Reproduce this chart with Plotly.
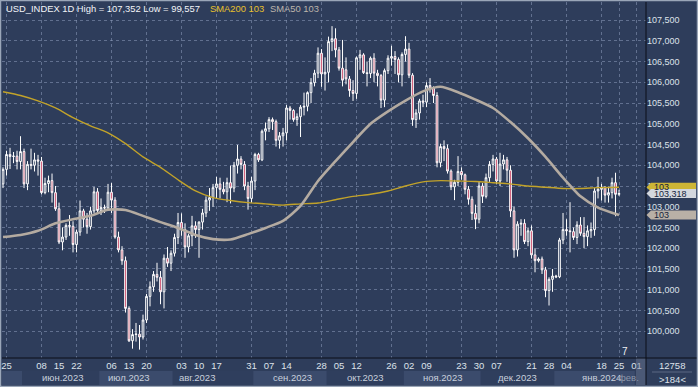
import plotly.graph_objects as go
import pandas as pd

# ---------------- data ----------------
dates = pd.bdate_range("2023-05-24", "2024-01-25")

open_ = [103.55, 103.90, 104.26,
         104.21, 104.22, 104.09, 104.33, 103.55,
         104.02, 104.00, 104.13, 104.10, 103.34,
         103.56, 103.63, 103.34, 102.95, 102.15,
         102.27, 102.55, 102.53, 102.09, 102.39,
         102.90, 102.70, 102.52, 102.90, 103.36,
         102.91, 102.98, 102.97, 103.35, 103.16,
         102.27, 101.96, 101.70, 100.55, 99.77,
         99.92, 99.93, 99.86, 100.27, 100.84,
         101.07, 101.37, 101.30, 100.95, 101.76,
         101.64, 101.88, 102.26, 102.62, 102.45,
         102.03, 102.30, 102.54, 102.45, 102.63,
         102.85, 103.16, 103.22, 103.46, 103.55,
         103.42, 103.36, 103.58, 103.45, 104.00,
         104.15, 104.02, 103.50, 103.20, 103.62,
         104.26, 104.13, 104.82, 104.88, 105.10,
         105.05, 104.60, 104.71, 104.78, 105.38,
         105.32, 105.10, 105.17, 105.40, 105.42,
         105.75, 105.99, 106.22, 106.70, 106.20,
         106.24, 106.98, 107.05, 106.78, 106.34,
         106.30, 106.08, 105.80, 105.73, 106.59,
         106.66, 106.23, 106.21, 106.58, 106.22,
         106.16, 105.57, 106.28, 106.58, 106.62,
         106.55, 106.18, 106.67, 106.80, 106.17,
         105.10, 105.26, 105.55, 105.52, 105.92,
         105.86, 105.68, 104.06, 104.45, 104.40,
         103.86, 103.48, 103.59, 103.85, 103.77,
         103.42, 103.18, 102.84, 102.70, 103.50,
         103.25, 103.70, 104.02, 104.15, 103.62,
         104.03, 104.13, 103.88, 102.90, 101.96,
         102.58, 102.60, 102.16, 102.42, 101.84,
         101.70, 101.74, 101.48, 100.98, 101.25,
         101.33, 101.31, 102.20, 102.45, 102.42,
         102.40, 102.26, 102.56, 102.36, 102.28,
         102.42, 102.45, 103.38, 103.42, 103.46,
         103.28, 103.34, 103.58, 103.30]

high = [103.95, 104.35, 104.42,
        104.32, 104.35, 104.70, 104.40, 104.10,
        104.40, 104.30, 104.25, 104.20, 103.70,
        103.75, 103.80, 103.50, 103.10, 102.50,
        102.60, 102.80, 102.65, 102.45, 103.15,
        102.95, 102.85, 103.00, 103.48, 103.45,
        103.20, 103.05, 103.55, 103.57, 103.23,
        102.40, 102.05, 101.80, 100.60, 100.05,
        100.20, 100.15, 100.40, 100.90, 101.20,
        101.45, 101.65, 101.45, 101.85, 102.03,
        101.95, 102.35, 102.85, 102.84, 102.60,
        102.35, 102.78, 102.65, 102.65, 102.95,
        103.25, 103.45, 103.55, 103.72, 103.70,
        103.60, 103.70, 103.99, 104.08, 104.49,
        104.22, 104.10, 103.60, 103.72, 104.30,
        104.30, 104.86, 105.03, 105.16, 105.15,
        105.10, 104.80, 104.90, 105.45, 105.43,
        105.35, 105.25, 105.45, 105.75, 105.78,
        106.10, 106.30, 106.84, 106.80, 106.60,
        107.10, 107.352, 107.30, 106.85, 107.02,
        106.60, 106.15, 106.05, 106.62, 106.78,
        106.70, 106.50, 106.62, 106.70, 106.30,
        106.20, 106.33, 106.65, 106.88, 106.75,
        106.60, 106.72, 107.11, 106.95, 106.22,
        105.35, 105.60, 105.70, 106.00, 106.10,
        105.90, 105.76, 104.52, 104.60, 104.50,
        103.90, 103.65, 104.22, 103.95, 103.80,
        103.50, 103.25, 103.05, 103.60, 103.57,
        103.80, 104.10, 104.25, 104.20, 104.30,
        104.25, 104.20, 104.00, 103.00, 102.65,
        102.70, 102.70, 102.50, 102.55, 102.00,
        101.78, 101.80, 101.55, 101.30, 101.50,
        101.36, 102.25, 102.85, 102.70, 103.11,
        102.50, 102.65, 102.75, 102.75, 102.55,
        102.62, 103.45, 103.72, 103.55, 103.50,
        103.48, 103.70, 103.82, 103.41]

low = [103.45, 103.75, 103.91,
       104.05, 103.90, 103.90, 103.45, 103.40,
       103.90, 103.85, 103.75, 103.30, 103.30,
       103.35, 103.10, 102.90, 102.10, 101.95,
       102.20, 102.30, 101.90, 101.90, 102.30,
       102.50, 102.35, 102.45, 102.85, 102.85,
       102.80, 102.85, 102.95, 102.85, 102.23,
       101.90, 101.60, 100.45, 99.74, 99.58,
       99.75, 99.557, 99.80, 100.20, 100.60,
       100.95, 101.20, 100.65, 100.55, 101.55,
       101.45, 101.80, 102.10, 102.30, 101.77,
       101.90, 102.05, 102.25, 101.77, 102.45,
       102.75, 102.90, 103.00, 103.20, 103.20,
       103.30, 103.11, 103.08, 103.35, 103.80,
       103.90, 103.40, 102.93, 103.10, 103.40,
       104.08, 104.10, 104.60, 104.80, 104.85,
       104.45, 104.40, 104.45, 104.60, 105.10,
       105.05, 104.95, 104.68, 105.20, 105.30,
       105.50, 105.90, 106.10, 105.89, 105.80,
       106.00, 106.75, 106.60, 106.28, 105.90,
       105.95, 105.65, 105.55, 105.60, 106.30,
       106.20, 105.90, 106.10, 106.00, 105.90,
       105.38, 105.40, 106.20, 106.40, 106.20,
       106.00, 105.90, 106.50, 106.10, 104.95,
       104.90, 105.10, 105.40, 105.40, 105.75,
       105.50, 103.95, 103.95, 104.10, 103.80,
       103.40, 103.16, 103.50, 103.65, 103.30,
       103.05, 102.68, 102.46, 102.60, 103.09,
       103.20, 103.60, 103.85, 103.55, 103.50,
       103.90, 103.60, 102.75, 101.77, 101.80,
       102.30, 102.10, 102.05, 101.75, 101.42,
       101.66, 101.38, 100.82, 100.62, 100.95,
       101.28, 101.28, 102.10, 102.30, 101.90,
       102.20, 102.10, 102.30, 102.00, 102.05,
       102.25, 102.30, 103.20, 103.15, 103.10,
       103.10, 103.20, 102.77, 103.26]

close = [103.90, 104.26, 104.21,
         104.22, 104.09, 104.33, 103.55, 104.02,
         104.00, 104.13, 104.10, 103.34, 103.56,
         103.63, 103.34, 102.95, 102.15, 102.27,
         102.55, 102.53, 102.09, 102.39, 102.90,
         102.70, 102.52, 102.90, 103.36, 102.91,
         102.98, 102.97, 103.35, 103.16, 102.27,
         101.96, 101.70, 100.55, 99.77, 99.92,
         99.93, 99.86, 100.27, 100.84, 101.07,
         101.37, 101.30, 100.95, 101.76, 101.64,
         101.88, 102.26, 102.62, 102.45, 102.03,
         102.30, 102.54, 102.45, 102.63, 102.85,
         103.16, 103.22, 103.46, 103.55, 103.42,
         103.36, 103.58, 103.45, 104.00, 104.15,
         104.02, 103.50, 103.20, 103.62, 104.26,
         104.13, 104.82, 104.88, 105.10, 105.05,
         104.60, 104.71, 104.78, 105.38, 105.32,
         105.10, 105.17, 105.40, 105.42, 105.75,
         105.99, 106.22, 106.70, 106.20, 106.24,
         106.98, 107.05, 106.78, 106.34, 106.05,
         106.08, 105.80, 105.73, 106.59, 106.66,
         106.23, 106.21, 106.58, 106.22, 106.16,
         105.57, 106.28, 106.58, 106.62, 106.55,
         106.18, 106.67, 106.80, 106.17, 105.10,
         105.26, 105.55, 105.52, 105.92, 105.86,
         105.68, 104.06, 104.45, 104.40, 103.86,
         103.48, 103.59, 103.85, 103.77, 103.42,
         103.18, 102.84, 102.70, 103.50, 103.25,
         103.70, 104.02, 104.15, 103.62, 104.03,
         104.13, 103.88, 102.90, 101.96, 102.58,
         102.60, 102.16, 102.42, 101.84, 101.70,
         101.74, 101.48, 100.98, 101.25, 101.33,
         101.31, 102.20, 102.45, 102.42, 102.40,
         102.26, 102.56, 102.36, 102.28, 102.42,
         102.45, 103.38, 103.42, 103.46, 103.28,
         103.34, 103.58, 103.30, 103.318]

# moving averages, one point per week (bar index)
sma_bar = [0, 5, 10, 15, 20, 25, 30, 35, 40, 45, 50, 55, 60, 65, 70, 75, 80, 85,
           90, 95, 100, 105, 110, 115, 120, 125, 130, 135, 140, 145, 150, 155,
           160, 165, 170, 176]
sma200 = [105.77, 105.68, 105.55, 105.38, 105.15, 104.95, 104.78, 104.52, 104.20,
          103.95, 103.65, 103.38, 103.22, 103.15, 103.10, 103.07, 103.04, 103.07,
          103.09, 103.17, 103.25, 103.30, 103.38, 103.50, 103.60, 103.63, 103.62,
          103.61, 103.58, 103.55, 103.50, 103.47, 103.44, 103.44, 103.46, 103.47]
sma50 = [102.27, 102.32, 102.42, 102.60, 102.70, 102.78, 102.93, 102.92, 102.78,
         102.63, 102.49, 102.32, 102.22, 102.21, 102.34, 102.49, 102.66, 103.02,
         103.62, 104.10, 104.56, 105.00, 105.30, 105.56, 105.78, 105.89, 105.76,
         105.58, 105.38, 105.04, 104.65, 104.20, 103.70, 103.25, 102.98, 102.80]

# date tick labels (Thursdays shown on the axis)
tick_dates = ["2023-05-25", "2023-06-08", "2023-06-15", "2023-06-22", "2023-07-06",
              "2023-07-13", "2023-07-20", "2023-08-03", "2023-08-10", "2023-08-17",
              "2023-08-31", "2023-09-07", "2023-09-14", "2023-09-28", "2023-10-05",
              "2023-10-12", "2023-10-26", "2023-11-02", "2023-11-09", "2023-11-23",
              "2023-11-30", "2023-12-07", "2023-12-21", "2023-12-28", "2024-01-04",
              "2024-01-18", "2024-01-25", "2024-02-01"]
month_labels = ["июн.2023", "июл.2023", "авг.2023", "сен.2023", "окт.2023",
                "ноя.2023", "дек.2023", "янв.2024"]
# where each month caption sits along the bar axis (layout position)
month_label_pos = [16.9, 36.0, 55.4, 82.6, 103.7, 125.7, 147.1, 171.1]
price_ticks = [100.0, 100.5, 101.0, 101.5, 102.0, 102.5, 103.0, 103.5, 104.0,
               104.5, 105.0, 105.5, 106.0, 106.5, 107.0, 107.5]

# ---------------- styling ----------------
BG = "#2e3d5b"
GRID = "rgba(140,155,185,0.55)"
TXT = "#dde2ea"
RED = "#c22b50"
GOLD_LINE = "#c2a32a"
GOLD_TXT = "#e8c22c"
GREY_LINE = "#b4aba1"
BAND_LIGHT = "#3b4b6c"
BAND_DARK = "#2f3e5d"
FONT = "Liberation Sans, Arial, sans-serif"

W, H = 698, 387
ML, MR, MT, MB = 2, 52, 2, 29
PW, PH = W - ML - MR, H - MT - MB

n = len(close)
assert len(dates) == n == len(open_) == len(high) == len(low)
xi = list(range(n))
ext = pd.bdate_range("2023-05-24", "2024-02-09")
pos = {d.strftime("%Y-%m-%d"): i for i, d in enumerate(ext)}
tick_pos = [pos[d] for d in tick_dates]
tick_txt = [d[-2:] for d in tick_dates]

x_range = [-0.29, 183.71]
y_range = [99.355, 107.934]


def px_x(p):
    return (p - ML) / PW


def px_y(p):
    return 1 - (p - MT) / PH


fig = go.Figure()
fig.add_trace(go.Candlestick(
    x=xi, open=open_, high=high, low=low, close=close,
    increasing=dict(line=dict(color="white", width=1), fillcolor=BG),
    decreasing=dict(line=dict(color="white", width=1), fillcolor=RED),
    whiskerwidth=0, showlegend=False, hoverinfo="skip"))
fig.add_trace(go.Scatter(
    x=sma_bar, y=sma200, mode="lines", xaxis="x2",
    line=dict(color=GOLD_LINE, width=1.4, shape="spline", smoothing=0.6),
    showlegend=False, hoverinfo="skip"))
fig.add_trace(go.Scatter(
    x=sma_bar, y=sma50, mode="lines", xaxis="x2",
    line=dict(color=GREY_LINE, width=2.6, shape="spline", smoothing=0.6),
    showlegend=False, hoverinfo="skip"))

grid_vals = list(range(1, int(x_range[1]) + 1, 10)) + [n - 1]

fig.update_layout(
    width=W, height=H, margin=dict(l=ML, r=MR, t=MT, b=MB, pad=0),
    paper_bgcolor=BG, plot_bgcolor=BG,
    font=dict(family=FONT, size=9, color=TXT),
    showlegend=False,
    xaxis=dict(range=x_range, tickmode="array", tickvals=grid_vals,
               showticklabels=False, showgrid=True, gridcolor=GRID,
               griddash="3px,3px", gridwidth=1, zeroline=False,
               showline=False, ticks="", rangeslider=dict(visible=False),
               fixedrange=True),
    xaxis2=dict(range=x_range, overlaying="x", side="bottom", anchor="y",
                tickmode="array", tickvals=tick_pos, ticktext=tick_txt,
                showgrid=False, zeroline=False, showline=False, ticks="",
                tickfont=dict(size=9.5, color=TXT), fixedrange=True),
    yaxis=dict(range=y_range, side="right", tickmode="array",
               tickvals=price_ticks,
               ticktext=[f"{v:.3f}".replace(".", ",") for v in price_ticks],
               showgrid=True, gridcolor=GRID, griddash="3px,3px", gridwidth=1,
               zeroline=False, showline=False, ticks="",
               tickfont=dict(size=9, color=TXT), fixedrange=True),
)

shapes = []
annotations = []
# month bands in the bottom strip (alternating shades, one per calendar month)
month_starts = []
for i, d in enumerate(ext):
    if i == 0 or d.month != ext[i - 1].month:
        month_starts.append(i)
bands = list(zip(month_starts[:-1], month_starts[1:]))
for k, (a, b) in enumerate(bands):
    shapes.append(dict(type="rect", xref="x", yref="paper",
                       x0=a - 0.5, x1=b - 0.5, y0=px_y(385), y1=px_y(371),
                       fillcolor=BAND_LIGHT if k % 2 == 0 else BAND_DARK,
                       line=dict(width=0), layer="below"))
for lab, p in zip(month_labels, month_label_pos):
    annotations.append(dict(x=p, y=px_y(378), xref="x", yref="paper",
                            text=lab, showarrow=False,
                            font=dict(size=9.5, color="#c9d0dc"),
                            xanchor="center", yanchor="middle"))

# future area box
shapes.append(dict(type="rect", xref="paper", yref="paper", x0=px_x(636), x1=px_x(646),
                   y0=px_y(385), y1=px_y(358), fillcolor="rgba(110,125,150,0.45)",
                   line=dict(width=0)))
annotations.append(dict(x=px_x(641), y=px_y(378), xref="paper", yref="paper",
                        text="фев.", showarrow=False,
                        font=dict(size=9.5, color="#8d97aa"),
                        xanchor="right", yanchor="middle"))

# black separators
shapes.append(dict(type="line", xref="paper", yref="paper", x0=px_x(646), x1=px_x(646),
                   y0=px_y(385), y1=1, line=dict(color="#0b0f18", width=1)))
shapes.append(dict(type="line", xref="paper", yref="paper", x0=0, x1=px_x(698),
                   y0=0, y1=0, line=dict(color="#0b0f18", width=1)))
shapes.append(dict(type="line", xref="paper", yref="paper", x0=px_x(652), x1=px_x(692),
                   y0=px_y(372), y1=px_y(372), line=dict(color="#5a6884", width=1)))
# outer frame
shapes.append(dict(type="rect", xref="paper", yref="paper", x0=px_x(0.5), x1=px_x(697.5),
                   y0=px_y(386.5), y1=px_y(0.5), line=dict(color="#9aa6b8", width=1.5)))

# price tags on the right axis
tags = [(sma50[-1], f"{sma50[-1]:.0f}", "#b9b0a6"),
        (sma200[-1], f"{sma200[-1]:.0f}", "#cdb535"),
        (close[-1], f"{close[-1]:.3f}".replace(".", ","), "#d3d7de")]
half = 4.5 / (PH / (y_range[1] - y_range[0]))
for v, t, c in tags:
    shapes.append(dict(type="path", xref="paper", yref="y",
                       path=f"M {px_x(646.5)} {v} L {px_x(651)} {v + half} "
                            f"L {px_x(696)} {v + half} L {px_x(696)} {v - half} "
                            f"L {px_x(651)} {v - half} Z",
                       fillcolor=c, line=dict(width=0), layer="above"))
    annotations.append(dict(x=px_x(652), y=v, xref="paper", yref="y", text=t,
                            showarrow=False, xanchor="left", yanchor="middle",
                            font=dict(size=9, color="#15233b")))

# header
annotations.append(dict(
    x=px_x(4), y=px_y(8), xref="paper", yref="paper", xanchor="left", yanchor="middle",
    text=f"USD_INDEX 1D High = {max(high):.3f} Low = {min(low):.3f}".replace(".", ","),
    showarrow=False, font=dict(size=9.4, color="#f2f4f8")))
annotations.append(dict(
    x=px_x(208), y=px_y(8), xref="paper", yref="paper", xanchor="left", yanchor="middle",
    text=f"SMA200 {sma200[-1]:.0f}", showarrow=False,
    font=dict(size=9.4, color=GOLD_TXT)))
annotations.append(dict(
    x=px_x(268), y=px_y(8), xref="paper", yref="paper", xanchor="left", yanchor="middle",
    text=f"SMA50 {sma50[-1]:.0f}", showarrow=False,
    font=dict(size=9.4, color="#bdb5ac")))

# misc texts
annotations.append(dict(x=px_x(625), y=px_y(351), xref="paper", yref="paper",
                        text="7", showarrow=False, font=dict(size=10, color="#eef1f6"),
                        xanchor="center", yanchor="middle"))
annotations.append(dict(x=px_x(672), y=px_y(365), xref="paper", yref="paper",
                        text="12758", showarrow=False, font=dict(size=9.5, color=TXT),
                        xanchor="center", yanchor="middle"))
annotations.append(dict(x=px_x(672), y=px_y(379), xref="paper", yref="paper",
                        text=">184<", showarrow=False, font=dict(size=9.5, color=TXT),
                        xanchor="center", yanchor="middle"))

fig.update_layout(shapes=shapes, annotations=annotations)
fig.write_html("out.html",
               config={"displayModeBar": False, "staticPlot": True},
               post_script="document.body.style.margin='0px';"
                           "document.body.style.overflow='hidden';")
